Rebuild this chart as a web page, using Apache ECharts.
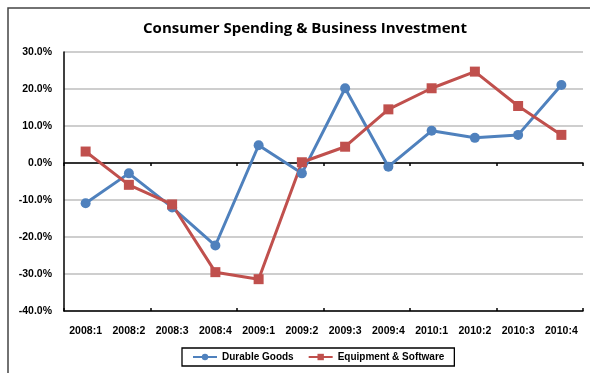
<!DOCTYPE html>
<html><head><meta charset="utf-8">
<script src="https://cdn.jsdelivr.net/npm/echarts@6/dist/echarts.min.js"></script>
<style>html,body{margin:0;padding:0;background:#fff}#c{width:590px;height:373px}</style>
</head><body><div id="c"></div>
<script>
var categories = ['2008:1','2008:2','2008:3','2008:4','2009:1','2009:2','2009:3','2009:4','2010:1','2010:2','2010:3','2010:4'];
var durableGoods = [-10.9,-2.8,-12.0,-22.3,4.8,-2.8,20.2,-1.0,8.7,6.8,7.6,21.1];
var equipmentSoftware = [3.1,-5.9,-11.2,-29.5,-31.4,0.2,4.4,14.5,20.2,24.7,15.4,7.6];
var yTicks = {min:-40, max:30, interval:10};

var chart = echarts.init(document.getElementById('c'));
var font = 'Liberation Sans, Arial, sans-serif';
chart.setOption({
  animation:false,
  title:{text:'Consumer Spending & Business Investment', left:300, top:16, textAlign:'center',
    textStyle:{fontFamily:'Open Sans, sans-serif', fontSize:15, fontWeight:'bold', color:'#000'}},
  graphic:[{type:'rect', shape:{x:8,y:8,width:700,height:500}, style:{fill:'none', stroke:'#444', lineWidth:1.5}, silent:true}],
  legend:{left:182, top:348, itemGap:14, padding:[4,10], borderColor:'#000', borderWidth:1.3,
    itemWidth:24, itemHeight:8,
    textStyle:{fontFamily:font, fontSize:10, fontWeight:'bold', color:'#000'},
    data:['Durable Goods','Equipment & Software']},
  grid:{left:64, top:52, right:7, bottom:62},
  xAxis:[
    {type:'category', data:categories, position:'bottom', axisLine:{onZero:true, lineStyle:{color:'#000', width:1.5}},
      axisTick:{show:true, length:3, lineStyle:{color:'#000', width:1.5}}, axisLabel:{show:false}, boundaryGap:true},
    {type:'category', data:categories, position:'bottom', axisLine:{onZero:true, lineStyle:{color:'#000', width:1.5}},
      axisTick:{show:true, inside:true, length:3, lineStyle:{color:'#000', width:1.5}}, axisLabel:{show:false}, boundaryGap:true},
    {type:'category', data:categories, position:'bottom', axisLine:{show:false, onZero:false}, axisTick:{show:false},
      axisLabel:{margin:15, fontFamily:font, fontSize:10.5, fontWeight:'bold', color:'#000'}, boundaryGap:true}
  ],
  yAxis:{type:'value', min:yTicks.min, max:yTicks.max, interval:yTicks.interval,
    axisLine:{show:true, onZero:false, lineStyle:{color:'#000', width:1.5}}, axisTick:{show:false},
    splitLine:{lineStyle:{color:'#BEBEBE', width:1.5}},
    axisLabel:{margin:12, fontFamily:font, fontSize:10.5, fontWeight:'bold', color:'#000',
      formatter:function(v){return v.toFixed(1)+'%';}}},
  series:[
    {name:'Durable Goods', type:'line', xAxisIndex:2, data:durableGoods, symbol:'circle', symbolSize:10,
      lineStyle:{color:'#4F81BD', width:3}, itemStyle:{color:'#4F81BD'}},
    {name:'Equipment & Software', type:'line', xAxisIndex:2, data:equipmentSoftware, symbol:'rect', symbolSize:10,
      lineStyle:{color:'#C0504D', width:3}, itemStyle:{color:'#C0504D'}}
  ]
});
</script></body></html>
